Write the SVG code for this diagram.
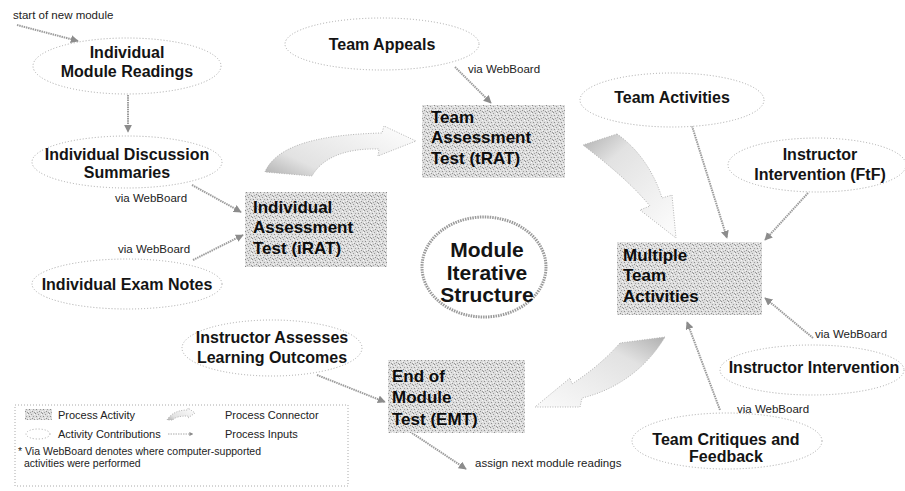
<svg xmlns="http://www.w3.org/2000/svg" width="905" height="491" viewBox="0 0 905 491">
  <style>
    .contrib { fill: #ffffff; stroke: #a8a8a8; stroke-width: 1; stroke-dasharray: 1 2; }
    .activity { fill: url(#stip); }
    .lbl { font-family: "Liberation Sans", Arial, sans-serif; font-weight: bold; font-size: 16px; fill: #141414; text-anchor: middle; }
    .box { font-family: "Liberation Sans", Arial, sans-serif; font-weight: bold; font-size: 17px; fill: #0c0c0c; }
    .small { font-family: "Liberation Sans", Arial, sans-serif; font-size: 11.5px; fill: #222; }
    .key { font-size: 11px; }
    .legend-note { font-size: 10.5px; }
    .input { fill: none; stroke: #9c9c9c; stroke-width: 2; stroke-dasharray: 1.5 0.8; marker-end: url(#head); }
    .conn { stroke: #b4b4b4; stroke-width: 1; stroke-dasharray: 1 1.5; }
  </style>
  <defs>
    <pattern id="stip" width="7" height="7" patternUnits="userSpaceOnUse">
      <rect width="7" height="7" fill="#dddddd"/>
      <rect x="0" y="0" width="1" height="1" fill="#8a8a8a"/>
      <rect x="3" y="1" width="1" height="1" fill="#9a9a9a"/>
      <rect x="6" y="1" width="1" height="1" fill="#fafafa"/>
      <rect x="1" y="3" width="1" height="1" fill="#8a8a8a"/>
      <rect x="5" y="3" width="1" height="1" fill="#a0a0a0"/>
      <rect x="4" y="5" width="1" height="1" fill="#909090"/>
      <rect x="2" y="6" width="1" height="1" fill="#a5a5a5"/>
      <rect x="0" y="5" width="1" height="1" fill="#f6f6f6"/>
      <rect x="3" y="4" width="1" height="1" fill="#f2f2f2"/>
      <rect x="6" y="6" width="1" height="1" fill="#989898"/>
      <rect x="2" y="2" width="1" height="1" fill="#f0f0f0"/>
    </pattern>
    <marker id="head" viewBox="0 0 10 10" refX="9" refY="5" markerWidth="4" markerHeight="4" orient="auto">
      <path d="M0,0 L10,5 L0,10 Z" fill="#8c8c8c"/>
    </marker>
    <linearGradient id="g1" x1="0" y1="1" x2="1" y2="0.3">
      <stop offset="0" stop-color="#b0b0b0"/>
      <stop offset="0.3" stop-color="#e2e2e2"/>
      <stop offset="1" stop-color="#fafafa"/>
    </linearGradient>
    <linearGradient id="g2" x1="0" y1="0" x2="0.8" y2="1">
      <stop offset="0" stop-color="#b0b0b0"/>
      <stop offset="0.3" stop-color="#e2e2e2"/>
      <stop offset="1" stop-color="#fafafa"/>
    </linearGradient>
    <linearGradient id="g3" x1="1" y1="0" x2="0" y2="1">
      <stop offset="0" stop-color="#b0b0b0"/>
      <stop offset="0.3" stop-color="#e2e2e2"/>
      <stop offset="1" stop-color="#fafafa"/>
    </linearGradient>
  </defs>

  <rect width="905" height="491" fill="#ffffff"/>

  <!-- process connectors: curved block arrows between activities -->
  <g id="connectors">
    <path class="conn" fill="url(#g1)" d="M265,172 C275,150 305,135 382,133 L384,126 L416,141 L378,156 L379,149 C345,148 322,158 312,176 Z"/>
    <path class="conn" fill="url(#g2)" d="M617,134 C640,150 655,175 662,198 L672,195 L676,238 L640,210 L650,206 C630,182 605,162 583,145 Z"/>
    <path class="conn" fill="url(#g3)" d="M620,343 C605,360 590,372 572,384 L570,378 L535,407 L580,407 L582,398 C615,390 645,370 665,337 Z"/>

    <!-- process inputs -->
    <path class="input" d="M17,25 L78,41"/>
    <path class="input" d="M128,95 L128,132"/>
    <path class="input" d="M192,185 L241,212"/>
    <path class="input" d="M193,260 L243,235"/>
    <path class="input" d="M455,67 L491,103"/>
    <path class="input" d="M692,126 L727,238"/>
    <path class="input" d="M808,193 L765,240"/>
    <path class="input" d="M813,338 L765,298"/>
    <path class="input" d="M720,410 L687,322"/>
    <path class="input" d="M317,375 L385,402"/>
    <path class="input" d="M412,433 L466,469"/>
  </g>

  <!-- activity contributions -->
  <g id="module-readings">
    <ellipse class="contrib" cx="127" cy="66" rx="94" ry="28"/>
    <text class="lbl" x="127" y="58">Individual</text>
    <text class="lbl" x="127" y="77">Module Readings</text>
  </g>
  <g id="discussion-summaries">
    <ellipse class="contrib" cx="127" cy="162" rx="95" ry="26"/>
    <text class="lbl" x="127" y="160">Individual Discussion</text>
    <text class="lbl" x="127" y="178">Summaries</text>
  </g>
  <g id="exam-notes">
    <ellipse class="contrib" cx="127" cy="284" rx="95" ry="25"/>
    <text class="lbl" x="127" y="290">Individual Exam Notes</text>
  </g>
  <g id="team-appeals">
    <ellipse class="contrib" cx="382" cy="44" rx="97" ry="26"/>
    <text class="lbl" x="382" y="50">Team Appeals</text>
  </g>
  <g id="team-activities">
    <ellipse class="contrib" cx="672" cy="100" rx="92" ry="27"/>
    <text class="lbl" x="672" y="103">Team Activities</text>
  </g>
  <g id="intervention-ftf">
    <ellipse class="contrib" cx="817" cy="165" rx="89" ry="27"/>
    <text class="lbl" x="820" y="160">Instructor</text>
    <text class="lbl" x="820" y="180">Intervention (FtF)</text>
  </g>
  <g id="intervention">
    <ellipse class="contrib" cx="812" cy="370" rx="92" ry="25"/>
    <text class="lbl" x="814" y="373">Instructor Intervention</text>
  </g>
  <g id="critiques">
    <ellipse class="contrib" cx="727" cy="441" rx="95" ry="28"/>
    <text class="lbl" x="726" y="445">Team Critiques and</text>
    <text class="lbl" x="726" y="462">Feedback</text>
  </g>
  <g id="assesses-outcomes">
    <ellipse class="contrib" cx="272" cy="348" rx="90" ry="28"/>
    <text class="lbl" x="272" y="343">Instructor Assesses</text>
    <text class="lbl" x="272" y="363">Learning Outcomes</text>
  </g>

  <!-- centre label -->
  <g id="module-structure">
    <ellipse cx="484" cy="267" rx="62" ry="50" fill="#ffffff" stroke="#9a9a9a" stroke-width="3" stroke-dasharray="1.5 1"/>
    <text class="lbl" x="487" y="257" style="font-size:21px">Module</text>
    <text class="lbl" x="487" y="280" style="font-size:21px">Iterative</text>
    <text class="lbl" x="487" y="302" style="font-size:21px">Structure</text>
  </g>

  <!-- process activities -->
  <g id="trat">
    <rect class="activity" x="422" y="105" width="143" height="73"/>
    <text class="box" x="431" y="123">Team</text>
    <text class="box" x="431" y="143">Assessment</text>
    <text class="box" x="431" y="164">Test (tRAT)</text>
  </g>
  <g id="irat">
    <rect class="activity" x="245" y="192" width="142" height="75"/>
    <text class="box" x="253" y="213">Individual</text>
    <text class="box" x="253" y="233">Assessment</text>
    <text class="box" x="253" y="254">Test (iRAT)</text>
  </g>
  <g id="multiple">
    <rect class="activity" x="617" y="242" width="145" height="73"/>
    <text class="box" x="623" y="261">Multiple</text>
    <text class="box" x="623" y="281">Team</text>
    <text class="box" x="623" y="302">Activities</text>
  </g>
  <g id="emt">
    <rect class="activity" x="388" y="360" width="137" height="73"/>
    <text class="box" x="392" y="382">End of</text>
    <text class="box" x="392" y="403">Module</text>
    <text class="box" x="392" y="425">Test (EMT)</text>
  </g>

  <!-- annotations -->
  <g id="notes">
    <text class="small" x="13" y="19">start of new module</text>
    <text class="small" x="468" y="73">via WebBoard</text>
    <text class="small" x="115" y="202">via WebBoard</text>
    <text class="small" x="118" y="253">via WebBoard</text>
    <text class="small" x="815" y="338">via WebBoard</text>
    <text class="small" x="737" y="413">via WebBoard</text>
    <text class="small" x="475" y="467">assign next module readings</text>
  </g>

  <!-- legend -->
  <g id="legend">
    <rect x="15" y="405" width="333" height="81" fill="#ffffff" stroke="#aaa" stroke-width="1" stroke-dasharray="1 2"/>
    <rect class="activity" x="25" y="409" width="27" height="11"/>
    <text class="small key" x="58" y="419">Process Activity</text>
    <path class="conn" fill="url(#g1)" d="M167,420 C172,412 180,410 188,410 L188,408 L195,413 L188,418 L188,416 C180,416 175,417 173,420 Z"/>
    <text class="small key" x="225" y="419">Process Connector</text>
    <ellipse class="contrib" cx="38" cy="434" rx="12" ry="5"/>
    <text class="small key" x="58" y="438">Activity Contributions</text>
    <path d="M168,434 L193,434" fill="none" stroke="#aaa" stroke-width="1" stroke-dasharray="1.5 1" marker-end="url(#head)"/>
    <text class="small key" x="225" y="438">Process Inputs</text>
    <text class="small legend-note" x="18" y="455">* Via WebBoard denotes where computer-supported</text>
    <text class="small legend-note" x="24" y="467">activities were performed</text>
  </g>
</svg>
